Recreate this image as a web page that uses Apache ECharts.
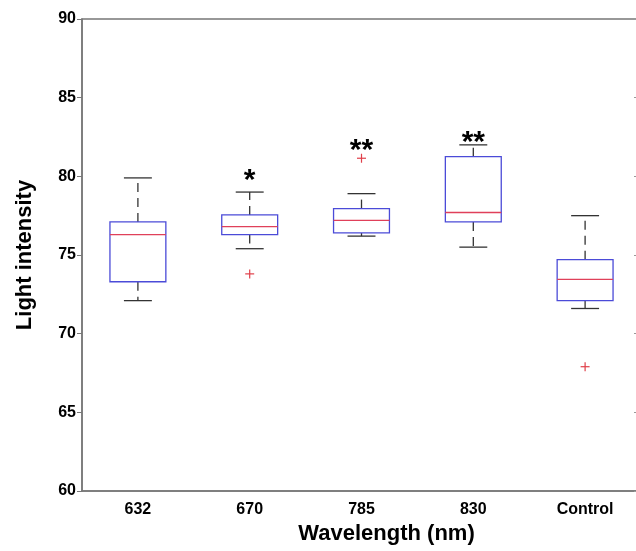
<!DOCTYPE html>
<html>
<head>
<meta charset="utf-8">
<script src="https://cdn.jsdelivr.net/npm/echarts@6/dist/echarts.min.js"></script>
<style>
  html, body { margin: 0; padding: 0; background: #fff; }
  #chart { width: 636px; height: 551px; }
</style>
</head>
<body>
<div id="chart"></div>
<script>
// 类别
const categories = ['632', '670', '785', '830', 'Control']
// 箱线数据: [下须, Q1, 中位数, Q3, 上须]
const lowWhisker = [72.1, 75.4, 76.2, 75.5, 71.6]
const q1 = [73.3, 76.3, 76.4, 77.1, 72.1]
const medians = [76.3, 76.8, 77.2, 77.7, 73.45]
const q3 = [77.1, 77.55, 77.95, 81.25, 74.7]
const highWhisker = [79.9, 79.0, 78.9, 82.0, 77.5]
// 离群点 [类别序号, 值]
const outliers = [[1, 73.8], [2, 81.15], [4, 67.9]]
// 显著性标记
const starText = ['', '*', '**', '**', '']
const starValue = [null, 80.7, 82.55, 83.1, null]
// y轴刻度
const yMin = 60
const yMax = 90
const yStep = 5

const font = 'Liberation Sans'
const boxData = categories.map((c, i) => [i, lowWhisker[i], q1[i], medians[i], q3[i], highWhisker[i]])

const renderBox = (params, api) => {
  const i = api.value(0)
  const band = api.size([1, 0])[0]
  const half = band * 0.25
  const cap = band * 0.125
  const pLow = api.coord([i, api.value(1)])
  const pQ1 = api.coord([i, api.value(2)])
  const pMed = api.coord([i, api.value(3)])
  const pQ3 = api.coord([i, api.value(4)])
  const pHigh = api.coord([i, api.value(5)])
  const x = pMed[0]
  const whisker = { stroke: '#333', lineWidth: 1.3, lineDash: [9, 6] }
  const capStyle = { stroke: '#333', lineWidth: 1.3 }
  return {
    type: 'group',
    children: [
      { type: 'line', shape: { x1: x, y1: pQ3[1], x2: x, y2: pHigh[1] }, style: whisker },
      { type: 'line', shape: { x1: x, y1: pQ1[1], x2: x, y2: pLow[1] }, style: whisker },
      { type: 'line', shape: { x1: x - cap, y1: pHigh[1], x2: x + cap, y2: pHigh[1] }, style: capStyle },
      { type: 'line', shape: { x1: x - cap, y1: pLow[1], x2: x + cap, y2: pLow[1] }, style: capStyle },
      {
        type: 'rect',
        shape: { x: x - half, y: pQ3[1], width: half * 2, height: pQ1[1] - pQ3[1] },
        style: { fill: 'none', stroke: '#4b4bd8', lineWidth: 1.3 }
      },
      { type: 'line', shape: { x1: x - half, y1: pMed[1], x2: x + half, y2: pMed[1] }, style: { stroke: '#e0405a', lineWidth: 1.3 } }
    ]
  }
}

const renderPlus = (params, api) => {
  const p = api.coord([api.value(0), api.value(1)])
  const s = 4.5
  const st = { stroke: '#e0404a', lineWidth: 1.2 }
  return {
    type: 'group',
    children: [
      { type: 'line', shape: { x1: p[0] - s, y1: p[1], x2: p[0] + s, y2: p[1] }, style: st },
      { type: 'line', shape: { x1: p[0], y1: p[1] - s, x2: p[0], y2: p[1] + s }, style: st }
    ]
  }
}

const renderStar = (params, api) => {
  const idx = api.value(0)
  const p = api.coord([idx, api.value(1)])
  return {
    type: 'text',
    x: p[0],
    y: p[1],
    style: {
      text: starText[idx],
      fill: '#000',
      font: 'bold 30px "' + font + '"',
      align: 'center',
      verticalAlign: 'top'
    }
  }
}

const chart = echarts.init(document.getElementById('chart'))

const option = {
  animation: false,
  backgroundColor: '#fff',
  grid: {
    left: 82,
    width: 559,
    top: 19,
    height: 472,
    outerBoundsMode: 'none',
    containLabel: false,
    show: true,
    borderColor: '#777',
    borderWidth: 1.5
  },
  xAxis: {
    type: 'category',
    data: categories,
    boundaryGap: true,
    name: 'Wavelength (nm)',
    nameLocation: 'middle',
    nameGap: 29,
    nameTextStyle: { fontFamily: font, fontWeight: 'bold', fontSize: 22, color: '#000', padding: [0, 0, 0, 50] },
    axisLine: { lineStyle: { color: '#777', width: 1.5 } },
    axisTick: { show: false },
    axisLabel: { fontFamily: font, fontWeight: 'bold', fontSize: 16, color: '#000', margin: 11 },
    splitLine: { show: false }
  },
  yAxis: [
    {
      type: 'value',
      min: yMin,
      max: yMax,
      interval: yStep,
      name: 'Light intensity',
      nameLocation: 'middle',
      nameGap: 46,
      nameTextStyle: { fontFamily: font, fontWeight: 'bold', fontSize: 22, color: '#000' },
      axisLine: { show: true, lineStyle: { color: '#777', width: 1.5 } },
      axisTick: { show: true, length: 5, lineStyle: { color: '#777' } },
      axisLabel: { fontFamily: font, fontWeight: 'bold', fontSize: 16, color: '#000', margin: 6 },
      splitLine: { show: false }
    },
    {
      type: 'value',
      position: 'right',
      min: yMin,
      max: yMax,
      interval: yStep,
      axisLine: { show: true, lineStyle: { color: '#777', width: 1.5 } },
      axisTick: { show: true, inside: true, length: 7, lineStyle: { color: '#999' } },
      axisLabel: { show: false },
      splitLine: { show: false }
    }
  ],
  series: [
    {
      type: 'custom',
      renderItem: renderBox,
      data: boxData,
      encode: { x: 0, y: [1, 2, 3, 4, 5] },
      z: 3
    },
    {
      type: 'custom',
      renderItem: renderPlus,
      data: outliers,
      encode: { x: 0, y: 1 },
      z: 4
    },
    {
      type: 'custom',
      renderItem: renderStar,
      data: starValue.map((v, i) => [i, v]).filter(d => d[1] !== null),
      encode: { x: 0, y: 1 },
      z: 5
    }
  ]
}

chart.setOption(option)
</script>
</body>
</html>
